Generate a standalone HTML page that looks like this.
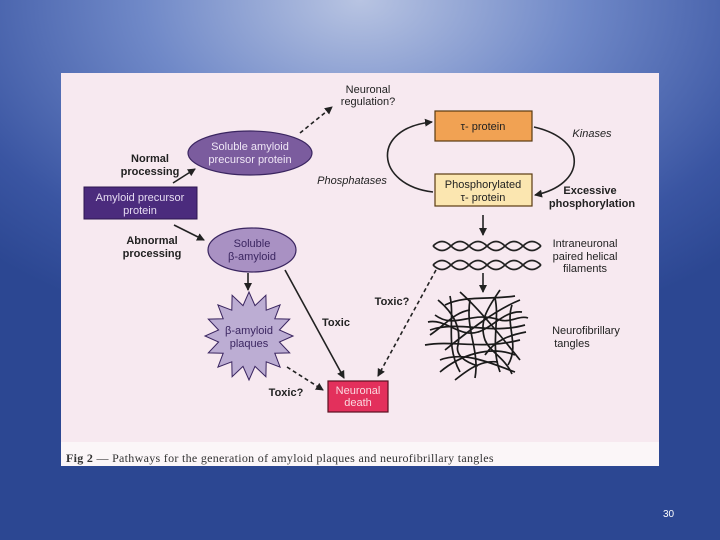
<!DOCTYPE html>
<html><head><meta charset="utf-8"><style>
html,body{margin:0;padding:0}
body{width:720px;height:540px;overflow:hidden;background:radial-gradient(ellipse 75% 65% at 50% 0%,#b8c4e2 0%,#7089c8 40%,#3a55a2 80%,#2c4792 100%);position:relative;font-family:"Liberation Sans",sans-serif}
svg{position:absolute;left:0;top:0}
</style></head><body>
<svg width="720" height="540" viewBox="0 0 720 540" font-family="Liberation Sans, sans-serif">
<defs>
<marker id="a" markerWidth="8" markerHeight="8" refX="7" refY="4" orient="auto" markerUnits="userSpaceOnUse"><path d="M0,0 L8,4 L0,8 z" fill="#222"/></marker>
</defs>
<rect x="61" y="73" width="598" height="393" fill="#f7e9f0"/>
<rect x="61" y="442" width="598" height="24" fill="#fbf6f8"/>
<text x="66" y="462" font-family="Liberation Serif, serif" font-size="12" letter-spacing="0.3" fill="#333"><tspan font-weight="bold">Fig 2</tspan> — Pathways for the generation of amyloid plaques and neurofibrillary tangles</text>

<rect x="84" y="187" width="113" height="32" fill="#4b2b7d" stroke="#2c1650"/>
<text x="140" y="201" font-size="11" fill="#e6dcf2" text-anchor="middle">Amyloid precursor</text>
<text x="140" y="214" font-size="11" fill="#e6dcf2" text-anchor="middle">protein</text>
<text x="150" y="162" font-size="11" font-weight="bold" text-anchor="middle" fill="#222">Normal</text>
<text x="150" y="175" font-size="11" font-weight="bold" text-anchor="middle" fill="#222">processing</text>
<text x="152" y="244" font-size="11" font-weight="bold" text-anchor="middle" fill="#222">Abnormal</text>
<text x="152" y="257" font-size="11" font-weight="bold" text-anchor="middle" fill="#222">processing</text>
<line x1="173" y1="183" x2="195" y2="169" stroke="#222" stroke-width="1.6" marker-end="url(#a)"/>
<line x1="174" y1="225" x2="204" y2="240" stroke="#222" stroke-width="1.6" marker-end="url(#a)"/>

<ellipse cx="250" cy="153" rx="62" ry="22" fill="#7b5c9e" stroke="#3a2560" stroke-width="1.2"/>
<text x="250" y="150" font-size="11" fill="#efe6f6" text-anchor="middle">Soluble amyloid</text>
<text x="250" y="163" font-size="11" fill="#efe6f6" text-anchor="middle">precursor protein</text>
<line x1="300" y1="133" x2="332" y2="107" stroke="#222" stroke-width="1.6" stroke-dasharray="4,3" marker-end="url(#a)"/>
<text x="368" y="93" font-size="11" text-anchor="middle" fill="#222">Neuronal</text>
<text x="368" y="105" font-size="11" text-anchor="middle" fill="#222">regulation?</text>

<ellipse cx="252" cy="250" rx="44" ry="22" fill="#a991c3" stroke="#3a2560" stroke-width="1.2"/>
<text x="252" y="247" font-size="11" fill="#3a2560" text-anchor="middle">Soluble</text>
<text x="252" y="260" font-size="11" fill="#3a2560" text-anchor="middle">β-amyloid</text>
<line x1="248" y1="273" x2="248" y2="290" stroke="#222" stroke-width="1.6" marker-end="url(#a)"/>
<polygon fill="#bcadd3" stroke="#3a2560" stroke-width="1" points="293,336 279.4,342 289.7,352.9 274.8,353.2 280.1,367.1 266.2,361.8 265.9,376.7 255,366.4 249,380 243,366.4 232.1,376.7 231.8,361.8 217.9,367.1 223.2,353.2 208.3,352.9 218.6,342 205,336 218.6,330 208.3,319.1 223.2,318.8 217.9,304.9 231.8,310.2 232.1,295.3 243,305.6 249,292 255,305.6 265.9,295.3 266.2,310.2 280.1,304.9 274.8,318.8 289.7,319.1 279.4,330"/>
<text x="249" y="334" font-size="11" fill="#3a2560" text-anchor="middle">β-amyloid</text>
<text x="249" y="347" font-size="11" fill="#3a2560" text-anchor="middle">plaques</text>

<line x1="285" y1="270" x2="344" y2="378" stroke="#222" stroke-width="1.6" marker-end="url(#a)"/>
<text x="336" y="326" font-size="11" font-weight="bold" text-anchor="middle" fill="#222">Toxic</text>
<line x1="287" y1="367" x2="323" y2="390" stroke="#222" stroke-width="1.6" stroke-dasharray="4,3" marker-end="url(#a)"/>
<text x="286" y="396" font-size="11" font-weight="bold" text-anchor="middle" fill="#222">Toxic?</text>
<line x1="436" y1="270" x2="378" y2="376" stroke="#222" stroke-width="1.6" stroke-dasharray="4,3" marker-end="url(#a)"/>
<text x="392" y="305" font-size="11" font-weight="bold" text-anchor="middle" fill="#222">Toxic?</text>

<rect x="328" y="381" width="60" height="31" fill="#e3305c" stroke="#5a1020" stroke-width="1.2"/>
<text x="358" y="394" font-size="11" fill="#fbd8e0" text-anchor="middle">Neuronal</text>
<text x="358" y="406" font-size="11" fill="#fbd8e0" text-anchor="middle">death</text>

<path d="M433,192 C375,185 370,128 432,122" fill="none" stroke="#222" stroke-width="1.6" marker-end="url(#a)"/>
<path d="M534,127 C590,140 585,185 535,195" fill="none" stroke="#222" stroke-width="1.6" marker-end="url(#a)"/>
<rect x="435" y="111" width="97" height="30" fill="#f1a253" stroke="#5a3a10" stroke-width="1.2"/>
<text x="483" y="130" font-size="11" text-anchor="middle" fill="#222">τ- protein</text>
<rect x="435" y="174" width="97" height="32" fill="#fbe6b0" stroke="#5a3a10" stroke-width="1.2"/>
<text x="483" y="188" font-size="11" text-anchor="middle" fill="#222">Phosphorylated</text>
<text x="483" y="201" font-size="11" text-anchor="middle" fill="#222">τ- protein</text>
<text x="592" y="137" font-size="11" font-style="italic" text-anchor="middle" fill="#222">Kinases</text>
<text x="352" y="184" font-size="11" font-style="italic" text-anchor="middle" fill="#222">Phosphatases</text>
<text x="590" y="194" font-size="11" font-weight="bold" text-anchor="middle" fill="#222">Excessive</text>
<text x="592" y="207" font-size="11" font-weight="bold" text-anchor="middle" fill="#222">phosphorylation</text>

<line x1="483" y1="215" x2="483" y2="235" stroke="#222" stroke-width="1.6" marker-end="url(#a)"/>
<g fill="none" stroke="#222" stroke-width="1.6">
<path d="M433,246 q9,-9 18,0 t18,0 t18,0 t18,0 t18,0 t18,0"/>
<path d="M433,246 q9,9 18,0 t18,0 t18,0 t18,0 t18,0 t18,0"/>
<path d="M433,265 q9,-9 18,0 t18,0 t18,0 t18,0 t18,0 t18,0"/>
<path d="M433,265 q9,9 18,0 t18,0 t18,0 t18,0 t18,0 t18,0"/>
</g>
<line x1="483" y1="273" x2="483" y2="292" stroke="#222" stroke-width="1.6" marker-end="url(#a)"/>
<text x="585" y="247" font-size="11" text-anchor="middle" fill="#222">Intraneuronal</text>
<text x="585" y="260" font-size="11" text-anchor="middle" fill="#222">paired helical</text>
<text x="585" y="272" font-size="11" text-anchor="middle" fill="#222">filaments</text>

<g fill="none" stroke="#1a1a1a" stroke-width="1.7">
<path d="M445,305 C465,295 490,300 515,296"/>
<path d="M430,330 C460,320 490,335 525,325"/>
<path d="M425,345 C455,340 480,350 520,340"/>
<path d="M440,360 C465,350 495,365 515,372"/>
<path d="M450,296 C455,320 445,345 460,372"/>
<path d="M470,300 C465,330 480,350 475,378"/>
<path d="M495,298 C500,320 490,345 500,372"/>
<path d="M512,305 C505,325 520,345 508,365"/>
<path d="M435,315 C455,330 470,310 500,320 C510,323 520,315 528,318"/>
<path d="M440,372 C460,355 490,345 515,355"/>
<path d="M460,292 C480,310 500,335 520,360"/>
<path d="M445,350 C470,330 495,310 520,300"/>
<path d="M430,335 C445,325 455,312 470,310"/>
<path d="M485,355 C495,340 510,335 526,332"/>
<path d="M438,300 C450,310 462,325 458,345 C455,355 465,362 478,366"/>
<path d="M500,290 C490,305 478,320 485,340 C490,352 505,358 512,374"/>
<path d="M428,322 C445,318 460,338 478,332 C492,328 505,310 522,312"/>
<path d="M455,380 C470,368 482,360 498,362"/>
</g>
<text x="586" y="334" font-size="11" text-anchor="middle" fill="#222">Neurofibrillary</text>
<text x="572" y="347" font-size="11" text-anchor="middle" fill="#222">tangles</text>
</svg>
<div style="position:absolute;left:663px;top:509px;font-size:10px;color:#fff">30</div>
</body></html>
